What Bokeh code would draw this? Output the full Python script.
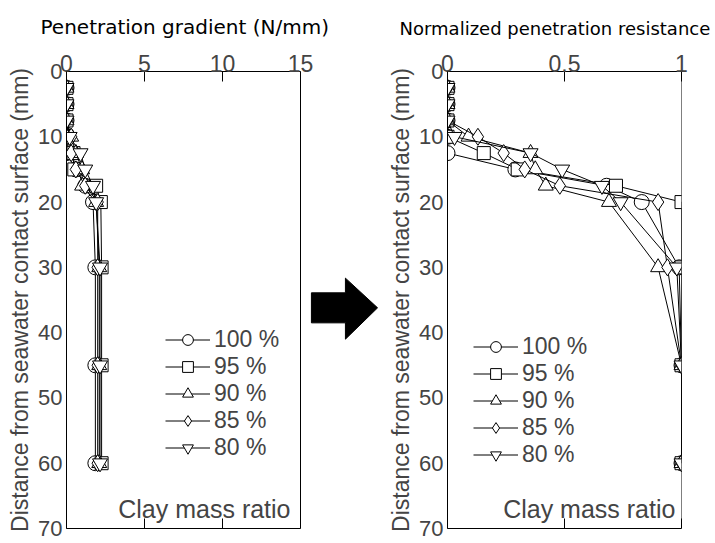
from bokeh.plotting import figure
from bokeh.layouts import row
from bokeh.models import (Range1d, LinearAxis, FixedTicker, CustomJSTickFormatter,
                          Legend, LegendItem, Label, Span, Title)
from bokeh.embed import file_html
from bokeh.resources import INLINE

# ---------------- data ----------------
depth = [2.5, 5, 7.5, 10, 12.5, 15, 17.5, 20, 30, 45, 60]
series_labels = ["100 %", "95 %", "90 %", "85 %", "80 %"]
markers = ["circle", "square", "triangle", "diamond", "inverted_triangle"]

grad_100 = [0, 0, 0, 0.1, 0, 0.6, 1.2, 1.7, 1.85, 1.85, 1.85]
grad_95 = [0, 0, 0, 0, 0.45, 0.5, 1.9, 2.2, 2.25, 2.25, 2.25]
grad_90 = [0, 0, 0, 0.3, 0.6, 1.0, 1.0, 1.9, 2.1, 2.1, 2.1]
grad_85 = [0, 0, 0, 0.3, 0.3, 0.6, 1.2, 2.0, 2.0, 2.0, 2.0]
grad_80 = [0, 0, 0, 0.2, 0.9, 1.2, 1.7, 1.9, 2.15, 2.15, 2.15]

norm_100 = [0, 0, 0, 0, 0, 0.29, 0.68, 0.83, 0.99, 1, 1]
norm_95 = [0, 0, 0, 0, 0.155, 0.30, 0.72, 1.0, 1.0, 1, 1]
norm_90 = [0, 0, 0, 0.09, 0.355, 0.375, 0.42, 0.69, 0.90, 1, 1]
norm_85 = [0, 0, 0, 0.13, 0.24, 0.33, 0.48, 0.90, 0.94, 1, 1]
norm_80 = [0, 0, 0, 0.03, 0.355, 0.49, 0.66, 0.74, 0.98, 1, 1]

grad_ticks = [0, 5, 10, 15]
norm_ticks = [0, 0.5, 1]
depth_ticks = [0, 10, 20, 30, 40, 50, 60, 70]

grad_series = [grad_100, grad_95, grad_90, grad_85, grad_80]
norm_series = [norm_100, norm_95, norm_90, norm_85, norm_80]

# block arrow between the panels, in the left panel's data units (decoration)
arrow_x = [15.7, 17.88, 17.88, 19.94, 17.88, 17.88, 15.7]
arrow_y = [33.9, 33.9, 31.65, 36.2, 41.0, 38.5, 38.5]

# ---------------- styling helpers ----------------
TICK_FONT = "Liberation Sans"
msize = {"circle": 15, "square": 13, "triangle": 15, "diamond": 17, "inverted_triangle": 15}
plain = CustomJSTickFormatter(code="return tick.toString();")
blank = CustomJSTickFormatter(code="return '';")


def make_panel(width, border_left, border_right, x_start, x_end, x_max, xticks, title,
               title_size, title_offset, series, legend_loc, note_x):
    p = figure(width=width, height=543, output_backend="svg", toolbar_location=None,
               x_range=Range1d(x_start, x_end), y_range=Range1d(70, 0),
               x_axis_location="above",
               min_border_left=border_left, min_border_right=border_right,
               min_border_top=70, min_border_bottom=15)
    p.background_fill_color = None
    p.border_fill_color = None
    p.outline_line_color = None
    p.grid.visible = False
    p.title = Title(text=title, align="left", offset=title_offset,
                    text_font="DejaVu Sans", text_font_size=title_size,
                    text_font_style="normal", text_color="black", standoff=25)

    xa = p.xaxis[0]
    xa.bounds = (x_start, x_max)
    xa.ticker = FixedTicker(ticks=xticks)
    xa.formatter = plain
    xa.major_tick_in = 10
    xa.major_tick_out = 0
    xa.minor_tick_line_color = None
    xa.major_label_text_font = TICK_FONT
    xa.major_label_text_font_size = "23px"
    xa.major_label_standoff = 0

    bottom = LinearAxis(ticker=FixedTicker(ticks=xticks), formatter=blank,
                        bounds=(x_start, x_max),
                        major_tick_in=10, major_tick_out=0,
                        minor_tick_line_color=None, major_label_text_font_size="1px")
    p.add_layout(bottom, "below")
    p.add_layout(Span(location=x_max, dimension="height", line_color="black", line_width=1))

    ya = p.yaxis[0]
    ya.ticker = FixedTicker(ticks=depth_ticks)
    ya.formatter = plain
    ya.major_tick_in = 0
    ya.major_tick_out = 0
    ya.minor_tick_line_color = None
    ya.major_label_text_font = TICK_FONT
    ya.major_label_text_font_size = "22px"
    ya.major_label_standoff = 4
    ya.axis_label = "Distance from seawater contact surface (mm)"
    ya.axis_label_text_font = "Liberation Sans"
    ya.axis_label_text_font_size = "23px"
    ya.axis_label_text_font_style = "normal"
    ya.axis_label_standoff = 2

    items = []
    for vals, mk, lab in zip(series, markers, series_labels):
        lr = p.line(vals, depth, line_color="black", line_width=1)
        sr = p.scatter(vals, depth, marker=mk, size=msize[mk], fill_color="white",
                       line_color="black", line_width=1)
        items.append(LegendItem(label=lab, renderers=[lr, sr]))

    leg = Legend(items=items, location=legend_loc, orientation="vertical",
                 glyph_width=45, glyph_height=27, label_standoff=4, spacing=0,
                 padding=0, margin=0, border_line_color=None,
                 background_fill_alpha=0, label_text_font="Liberation Sans",
                 label_text_font_size="23px", label_height=22)
    p.add_layout(leg)

    p.add_layout(Label(x=note_x, y=67.0, text="Clay mass ratio", text_align="right",
                       text_baseline="middle", text_font="Liberation Sans",
                       text_font_size="25px"))
    return p


left = make_panel(378, 66, 0, 0, 20.0, 15, grad_ticks, "Penetration gradient (N/mm)", "20px",
                  -26, grad_series, (99, 67), 14.36)
left.patch(arrow_x, arrow_y, fill_color="black", line_color="black")

right = make_panel(337, 69, 34, 0, 1, 1, norm_ticks, "Normalized penetration resistance", "18px",
                   -48, norm_series, (26, 60), 0.974)

layout = row(left, right, spacing=0)
open("out.html", "w").write(file_html(layout, INLINE))
